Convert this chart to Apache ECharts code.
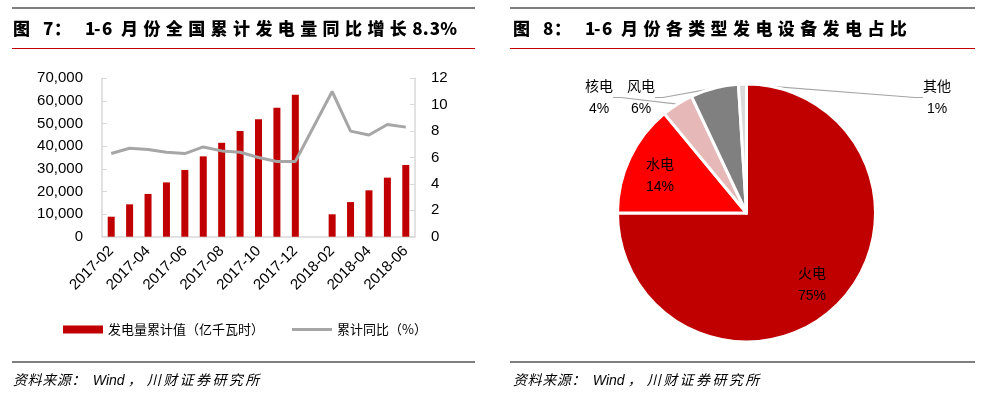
<!DOCTYPE html>
<html>
<head>
<meta charset="utf-8">
<script src="https://cdn.jsdelivr.net/npm/echarts@6/dist/echarts.min.js"></script>
<style>
html,body{margin:0;padding:0;background:#fff;}
#main{width:982px;height:396px;}
</style>
</head>
<body>
<div id="main"></div>
<script>
// ---------- data ----------
const categories = ['2017-02','2017-03','2017-04','2017-05','2017-06','2017-07','2017-08','2017-09','2017-10','2017-11','2017-12','2018-01','2018-02','2018-03','2018-04','2018-05','2018-06'];
const genValues = [8840,14300,18900,24000,29500,35500,41500,46700,51900,57000,62750,null,9900,15300,20500,26100,31700];
const yoyValues = [6.3,6.7,6.6,6.4,6.3,6.8,6.5,6.4,6.0,5.7,5.7,null,11.0,8.0,7.7,8.5,8.3];
const leftTicks = [0,10000,20000,30000,40000,50000,60000,70000];
const rightTicks = [0,2,4,6,8,10,12];
const pieNames = ['火电','水电','核电','风电','其他'];
const pieValues = [75,14,4,6,1];
const seriesNames = ['发电量累计值（亿千瓦时）','累计同比（%）'];
const title1 = '图 7：1-6月份全国累计发电量同比增长8.3%';
const title2 = '图 8：1-6月份各类型发电设备发电占比';

// ---------- helpers ----------
const CJK = "'Noto Sans CJK SC'";
const LAT = "'Liberation Sans', 'Noto Sans CJK SC'";

function spacedRich(chars, widths, base) {
  let text = '';
  const rich = {};
  chars.forEach((c, i) => {
    const k = 't' + i;
    rich[k] = Object.assign({}, base, { width: widths[i] });
    text += '{' + k + '|' + c + '}';
  });
  return { text, rich };
}

function titleWidths(str) {
  const arr = Array.from(str.replace(/ /g, ''));
  const w = [];
  arr.forEach((c, i) => {
    if (c === '图') w.push(30);
    else if (c === '：') w.push(31);
    else if (c === '1' && i < 4) w.push(9);
    else if (c === '-') w.push(8);
    else if (c === '6' && i < 6) w.push(19);
    else if (c === '.') w.push(7);
    else if (c === '%') w.push(15);
    else if (/[0-9]/.test(c)) w.push(i < 3 ? 11 : 10.5);
    else w.push(22.4);
  });
  return { chars: arr, widths: w };
}

function makeTitle(str, x) {
  const tw = titleWidths(str);
  const r = spacedRich(tw.chars, tw.widths, { fontFamily: CJK, fontWeight: 900, fontSize: 17, fill: '#000', color: '#000' });
  return { type: 'text', left: x, top: 20, style: { text: r.text, rich: r.rich, fill: '#000' } };
}

function makeSource(x) {
  const arr = ['资','料','来','源','：','Wind','，','川','财','证','券','研','究','所'];
  const w = [14.6,14.6,14.6,14.6,21.4,35,19,16.4,16.4,16.4,16.4,16.4,16.4,16.4];
  const r = spacedRich(arr, w, { fontFamily: LAT, fontStyle: 'italic', fontSize: 14, fill: '#000', color: '#000' });
  return { type: 'text', left: x, top: 374, style: { text: r.text, rich: r.rich, fill: '#000' } };
}

function hline(x1, x2, y, color) {
  return { type: 'line', shape: { x1, y1: y, x2, y2: y }, style: { stroke: color, lineWidth: 1.2 }, silent: true };
}

const chart = echarts.init(document.getElementById('main'), null, { renderer: 'canvas' });

const pieLabelPos = {
  '火电': [812, 284],
  '水电': [660, 175],
  '核电': [599, 97],
  '风电': [641, 97],
  '其他': [937, 97]
};
const pieColors = ['#C00000', '#FF0000', '#E6B9B8', '#808080', '#D9D9D9'];

const option = {
  animation: false,
  backgroundColor: '#fff',
  textStyle: { fontFamily: LAT },
  graphic: [
    hline(12, 475, 8, '#000'),
    hline(12, 475, 48.5, '#C00000'),
    hline(12, 475, 362, '#000'),
    hline(510, 975, 8, '#000'),
    hline(510, 975, 48.5, '#C00000'),
    hline(510, 975, 362, '#000'),
    makeTitle(title1, 13),
    makeTitle(title2, 513),
    makeSource(13),
    makeSource(513)
  ],
  legend: [
    {
      data: [{ name: seriesNames[0], icon: 'rect' }], left: 58, top: 318,
      itemWidth: 40, itemHeight: 8, itemGap: 10,
      textStyle: { fontFamily: CJK, fontSize: 13, color: '#000' }
    },
    {
      data: [{ name: seriesNames[1], icon: 'rect' }], left: 287, top: 318,
      itemWidth: 40, itemHeight: 3, itemGap: 10,
      itemStyle: { color: '#A6A6A6' },
      textStyle: { fontFamily: CJK, fontSize: 13, color: '#000' }
    }
  ],
  grid: { left: 102, right: 567, top: 78.3, bottom: 159.3, containLabel: false },
  xAxis: {
    type: 'category', data: categories, boundaryGap: true,
    axisLine: { lineStyle: { color: '#D9D9D9', width: 1.5 } },
    axisTick: { show: false },
    axisLabel: { interval: 1, rotate: 45, fontSize: 15, color: '#000', fontFamily: LAT, margin: 12 }
  },
  yAxis: [
    {
      type: 'value', min: leftTicks[0], max: leftTicks[leftTicks.length - 1], interval: leftTicks[1] - leftTicks[0],
      axisLine: { show: true, lineStyle: { color: '#D9D9D9', width: 1.5 } },
      axisTick: { show: true, inside: true, length: 5, lineStyle: { color: '#D9D9D9' } },
      splitLine: { show: false },
      axisLabel: { fontSize: 15, color: '#000', fontFamily: LAT, margin: 19,
        formatter: v => v.toLocaleString('en-US') }
    },
    {
      type: 'value', min: rightTicks[0], max: rightTicks[rightTicks.length - 1], interval: rightTicks[1] - rightTicks[0],
      position: 'right',
      axisLine: { show: true, lineStyle: { color: '#D9D9D9', width: 1.5 } },
      axisTick: { show: true, inside: true, length: 5, lineStyle: { color: '#D9D9D9' } },
      splitLine: { show: false },
      axisLabel: { fontSize: 15, color: '#000', fontFamily: LAT, margin: 16 }
    }
  ],
  series: [
    {
      name: seriesNames[0], type: 'bar', data: genValues.map(v => v == null ? '-' : v),
      barWidth: 7, itemStyle: { color: '#C00000' }, yAxisIndex: 0
    },
    {
      name: seriesNames[1], type: 'line', data: yoyValues.map(v => v == null ? '-' : v),
      yAxisIndex: 1, connectNulls: true, symbol: 'none', showSymbol: false,
      lineStyle: { color: '#A6A6A6', width: 3 }, itemStyle: { color: '#A6A6A6' }
    },
    {
      type: 'pie', center: [746.5, 213], radius: 129, startAngle: 90, clockwise: true,
      avoidLabelOverlap: false,
      itemStyle: { borderColor: '#fff', borderWidth: 3 },
      data: pieNames.map((n, i) => {
        const inside = i < 2;
        return {
          name: n, value: pieValues[i],
          itemStyle: { color: pieColors[i] },
          label: { position: inside ? 'inside' : 'outside' },
          labelLine: { show: !inside, length: 8, length2: 8, lineStyle: { color: '#A6A6A6', width: 1.2 } }
        };
      }),
      label: {
        show: true, color: '#000',
        formatter: p => '{n|' + p.name + '}\n{p|' + p.value + '%}',
        rich: {
          n: { fontFamily: CJK, fontSize: 14, lineHeight: 24, color: '#000' },
          p: { fontFamily: LAT, fontSize: 14, lineHeight: 22, color: '#000' }
        }
      },
      labelLayout: function (params) {
        const p = pieLabelPos[pieNames[params.dataIndex]];
        return { x: p[0], y: p[1], align: 'center', verticalAlign: 'middle', hideOverlap: false };
      },
      emphasis: { disabled: true }
    }
  ]
};
chart.setOption(option);
</script>
</body>
</html>
